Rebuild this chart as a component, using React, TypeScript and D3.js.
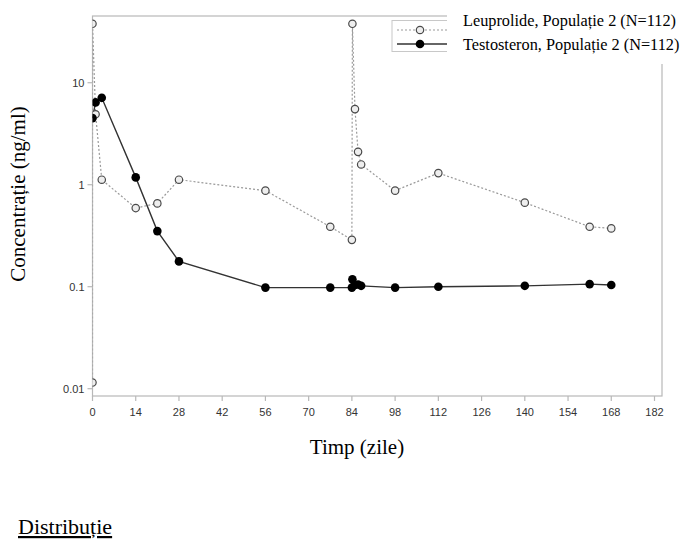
import React from "react";
import * as d3 from "d3";

// Leuprolide concentration profile (ng/ml) by study day
const leuDays = [0, 0, 1, 3, 14, 21, 28, 56, 77, 84, 84.17, 85, 86, 87, 98, 112, 140, 161, 168];
const leuConc = [0.0115, 37.8, 4.9, 1.12, 0.59, 0.656, 1.12, 0.875, 0.387, 0.288, 37.8, 5.51, 2.1, 1.58, 0.875, 1.3, 0.667, 0.387, 0.373];

// Testosterone concentration profile (ng/ml) by study day
const testoDays = [0, 1, 3, 14, 21, 28, 56, 77, 84, 84.17, 85, 86, 87, 98, 112, 140, 161, 168];
const testoConc = [4.5, 6.41, 7.11, 1.18, 0.351, 0.177, 0.098, 0.098, 0.098, 0.118, 0.104, 0.105, 0.102, 0.098, 0.1, 0.102, 0.106, 0.104];

const xTicks = d3.range(0, 183, 14);
const yTicks = [0.01, 0.1, 1, 10];
const yTickLabels = ["0.01", "0.1", "1", "10"];

const legendLabels = ["Leuprolide, Populație 2 (N=112)", "Testosteron, Populație 2 (N=112)"];

const W = 687;
const H = 545;
const plot = { left: 92.5, right: 662, top: 16, bottom: 396 };

export default function App() {
  const x = d3.scaleLinear().domain([0, 182]).range([plot.left, 654.5]);
  const y = d3.scaleLog().domain([0.00848, 45.1]).range([plot.bottom, plot.top]);

  const leu = leuDays.map((d, i) => [d, leuConc[i]] as [number, number]);
  const testo = testoDays.map((d, i) => [d, testoConc[i]] as [number, number]);
  const line = d3
    .line<[number, number]>()
    .x((d) => x(d[0]))
    .y((d) => y(d[1]));

  const axisColor = "#b8b8b8";
  const tickFont = "'Liberation Sans', Arial, sans-serif";
  const serif = "'Liberation Serif', 'Times New Roman', serif";

  return (
    <svg
      width={W}
      height={H}
      style={{ position: "absolute", left: 0, top: 0, background: "#fff" }}
    >
      <defs>
        <clipPath id="plotClip">
          <rect
            x={plot.left}
            y={plot.top}
            width={plot.right - plot.left}
            height={plot.bottom - plot.top}
          />
        </clipPath>
      </defs>

      {/* frame */}
      <rect
        x={plot.left}
        y={plot.top}
        width={plot.right - plot.left}
        height={plot.bottom - plot.top}
        fill="none"
        stroke={axisColor}
        strokeWidth={1.2}
      />

      {/* y axis ticks */}
      {yTicks.map((t, i) => (
        <g key={"y" + t}>
          <line x1={plot.left - 5} x2={plot.left} y1={y(t)} y2={y(t)} stroke={axisColor} strokeWidth={1.2} />
          <text
            x={plot.left - 8}
            y={y(t)}
            dy="0.35em"
            textAnchor="end"
            fontFamily={tickFont}
            fontSize={11}
            fill="#333"
          >
            {yTickLabels[i]}
          </text>
        </g>
      ))}

      {/* x axis ticks */}
      {xTicks.map((t) => (
        <g key={"x" + t}>
          <line x1={x(t)} x2={x(t)} y1={plot.bottom} y2={plot.bottom + 5} stroke={axisColor} strokeWidth={1.2} />
          <text
            x={x(t)}
            y={plot.bottom + 20}
            textAnchor="middle"
            fontFamily={tickFont}
            fontSize={11}
            fill="#333"
          >
            {t}
          </text>
        </g>
      ))}

      <g clipPath="url(#plotClip)">
        <path d={line(leu) || ""} fill="none" stroke="#9a9a9a" strokeWidth={1.2} strokeDasharray="2,2" />
        <path d={line(testo) || ""} fill="none" stroke="#333" strokeWidth={1.4} />
        {leu.map((d, i) => (
          <circle key={"l" + i} cx={x(d[0])} cy={y(d[1])} r={3.7} fill="#eeeeee" stroke="#4a4a4a" strokeWidth={1.2} />
        ))}
        {testo.map((d, i) => (
          <circle key={"t" + i} cx={x(d[0])} cy={y(d[1])} r={4.3} fill="#000" />
        ))}
      </g>

      {/* legend */}
      <rect x={392} y={20.5} width={80} height={31} fill="#fff" stroke="#c8c8c8" strokeWidth={1} />
      <rect x={447} y={0} width={W - 447} height={64} fill="#fff" />
      <line x1={397} x2={447} y1={30} y2={30} stroke="#9a9a9a" strokeWidth={1.2} strokeDasharray="2,2" />
      <circle cx={420} cy={30} r={3.7} fill="#eeeeee" stroke="#4a4a4a" strokeWidth={1.2} />
      <line x1={397} x2={447} y1={44} y2={44} stroke="#333" strokeWidth={1.4} />
      <circle cx={420} cy={44} r={4.3} fill="#000" />
      {legendLabels.map((s, i) => (
        <text key={s} x={463} y={26 + i * 24} fontFamily={serif} fontSize={16.3} fill="#000">
          {s}
        </text>
      ))}

      {/* axis titles */}
      <text
        transform="translate(25,194) rotate(-90)"
        textAnchor="middle"
        fontFamily={serif}
        fontSize={21}
        fill="#000"
      >
        Concentrație (ng/ml)
      </text>
      <text x={357} y={454} textAnchor="middle" fontFamily={serif} fontSize={21} fill="#000">
        Timp (zile)
      </text>

      <text x={18} y={534} fontFamily={serif} fontSize={22} fill="#000" textDecoration="underline">
        Distribuție
      </text>
    </svg>
  );
}
